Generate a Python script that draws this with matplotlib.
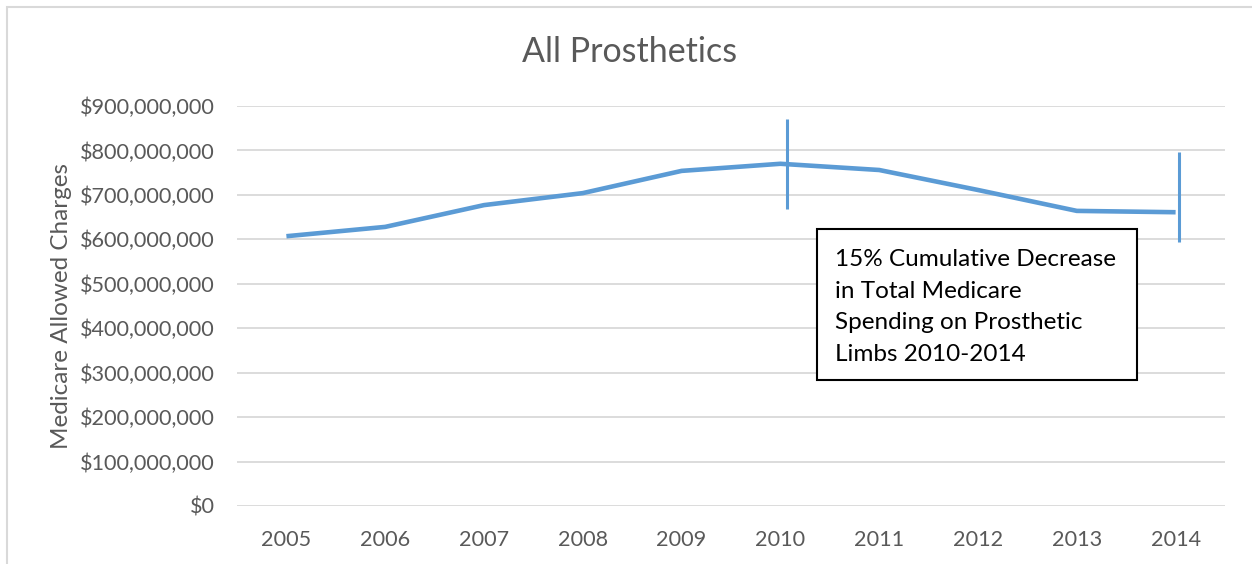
import matplotlib
matplotlib.use("Agg")
import matplotlib.pyplot as plt
from matplotlib.patches import Rectangle
from matplotlib.ticker import FuncFormatter

# data
years = ["2005", "2006", "2007", "2008", "2009", "2010", "2011", "2012", "2013", "2014"]
charges = [607e6, 628e6, 677e6, 704e6, 754e6, 770e6, 756e6, 711e6, 664e6, 661e6]

# the two vertical markers (category position, bottom, top)
marker_x = [5.07, 9.03]
marker_lo = [668e6, 594e6]
marker_hi = [871e6, 796e6]

note = "15% Cumulative Decrease\nin Total Medicare\nSpending on Prosthetic\nLimbs 2010-2014"

plt.rcParams['font.family'] = ['Lato', 'DejaVu Sans']
gray = "#595959"
blue = "#5b9bd5"

fig = plt.figure(figsize=(12.52, 5.64), dpi=100)
ax = fig.add_axes([237 / 1252, 1 - 506 / 564, (1225 - 237) / 1252, 400 / 564])

# outer chart frame
fig.patches.append(Rectangle((7 / 1252, -0.1), 1.1, 1 - 7 / 564 + 0.1, transform=fig.transFigure,
                             fill=False, edgecolor="#d9d9d9", linewidth=1.5))

x = list(range(len(years)))
ax.plot(x, charges, color=blue, linewidth=3.3, solid_capstyle="butt", zorder=3)
ax.vlines(marker_x, marker_lo, marker_hi, color=blue, linewidth=2.2, zorder=3)

ax.set_xlim(-0.5, len(years) - 0.5)
ax.set_ylim(0, 900e6)
ax.set_yticks([i * 100e6 for i in range(10)])
ax.yaxis.set_major_formatter(FuncFormatter(lambda v, p: "${:,.0f}".format(v)))
ax.set_xticks(x)
ax.set_xticklabels(years)
ax.grid(axis="y", color="#d9d9d9", linewidth=1.3)
ax.set_axisbelow(True)
for s in ax.spines.values():
    s.set_visible(False)
ax.tick_params(length=0, labelsize=15.6, labelcolor=gray, pad=16)
ax.tick_params(axis="x", pad=17)

ax.set_ylabel("Medicare Allowed Charges", fontsize=17.5, color=gray, labelpad=5.5)
fig.text(630 / 1252, 1 - 52 / 564, "All Prosthetics", fontsize=24.5, color=gray,
         ha="center", va="center")

# annotation box
fig.patches.append(Rectangle((817 / 1252, 1 - 380 / 564), 320 / 1252, 151 / 564,
                             transform=fig.transFigure, facecolor="white",
                             edgecolor="black", linewidth=1.5, zorder=5))
fig.text(835 / 1252, 1 - 249 / 564, note, fontsize=17.5, color="black", ha="left", va="top",
         linespacing=1.63, zorder=6)

fig.savefig("out.png", dpi=100)
